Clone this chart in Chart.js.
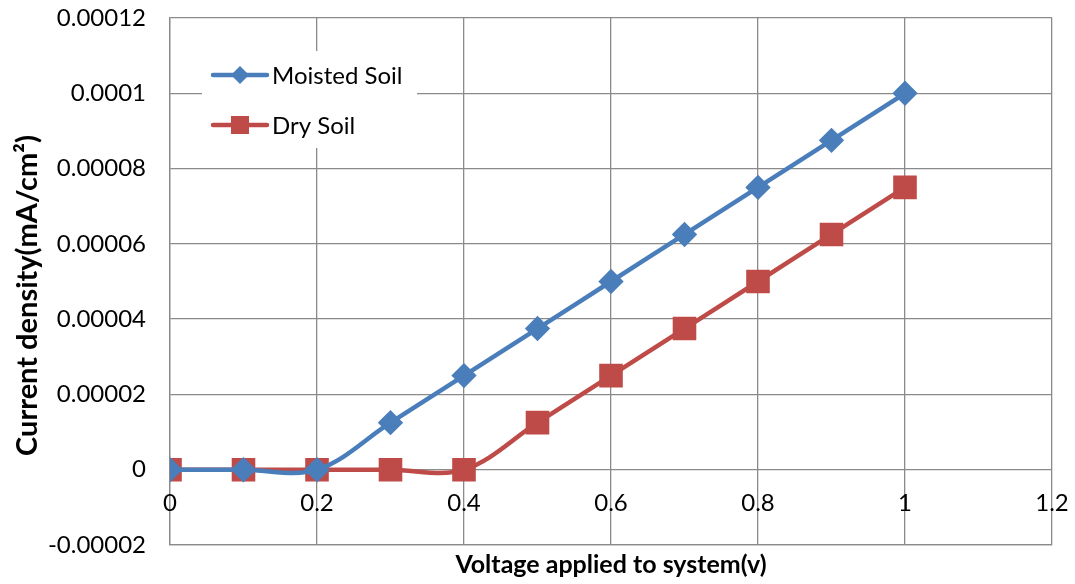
<!DOCTYPE html>
<html>
<head>
<meta charset="utf-8">
<script src="https://cdn.jsdelivr.net/npm/chart.js@4"></script>
<style>
html,body{margin:0;padding:0;background:#fff;}
#wrap{width:1075px;height:584px;position:relative;}
</style>
</head>
<body>
<div id="wrap"><canvas id="c" width="1075" height="584"></canvas></div>
<script>
const voltages = [0, 0.1, 0.2, 0.3, 0.4, 0.5, 0.6, 0.7, 0.8, 0.9, 1.0];
const moistedSoil = [0, 0, 0, 0.0000125, 0.000025, 0.0000375, 0.00005, 0.0000625, 0.000075, 0.0000875, 0.0001];
const drySoil = [0, 0, 0, 0, 0, 0.0000125, 0.000025, 0.0000375, 0.00005, 0.0000625, 0.000075];
const seriesNames = ['Moisted Soil', 'Dry Soil'];
const xTicks = [0, 0.2, 0.4, 0.6, 0.8, 1.0, 1.2];
const xTickLabels = ['0', '0.2', '0.4', '0.6', '0.8', '1', '1.2'];
const yTicks = [-0.00002, 0, 0.00002, 0.00004, 0.00006, 0.00008, 0.0001, 0.00012];
const yTickLabels = ['-0.00002', '0', '0.00002', '0.00004', '0.00006', '0.00008', '0.0001', '0.00012'];
const xTitle = 'Voltage applied to system(v)';
const yTitle = 'Current density(mA/cm\u00B2)';

const FONT = 'Lato, "Open Sans", sans-serif';
const GRID = '#8a8a8a';

const textPlugin = {
  id: 'extraText',
  afterDraw(chart) {
    const ctx = chart.ctx, xs = chart.scales.x, ys = chart.scales.y;
    const y0 = ys.getPixelForValue(0);
    ctx.save();
    ctx.font = '24px ' + FONT;
    ctx.fillStyle = '#000';
    ctx.textAlign = 'center';
    ctx.textBaseline = 'middle';
    xTicks.forEach((v, i) => {
      ctx.fillText(xTickLabels[i], xs.getPixelForValue(v), y0 + 34);
    });
    // y axis title, slightly below the plot centre as in the reference
    ctx.translate(28, (ys.top + ys.bottom) / 2 + 14);
    ctx.rotate(-Math.PI / 2);
    ctx.font = 'bold 29px ' + FONT;
    ctx.fillText(yTitle, 0, 0);
    ctx.restore();
  }
};

const legendPlugin = {
  id: 'insideLegend',
  beforeDatasetsDraw(chart) {
    const ctx = chart.ctx;
    ctx.save();
    ctx.fillStyle = '#fff';
    ctx.fillRect(202, 51, 215, 97);
    chart.data.datasets.forEach((ds, i) => {
      const cy = 75 + i * 50;
      ctx.strokeStyle = ds.borderColor;
      ctx.lineWidth = 4.5;
      ctx.lineCap = 'round';
      ctx.beginPath();
      ctx.moveTo(213, cy);
      ctx.lineTo(267, cy);
      ctx.stroke();
      ctx.fillStyle = ds.backgroundColor;
      ctx.beginPath();
      if (ds.pointStyle === 'rectRot') {
        const r = 9;
        ctx.moveTo(240, cy - r); ctx.lineTo(240 + r, cy); ctx.lineTo(240, cy + r); ctx.lineTo(240 - r, cy);
        ctx.closePath();
      } else {
        ctx.rect(231, cy - 9, 18, 18);
      }
      ctx.fill();
      ctx.fillStyle = '#000';
      ctx.font = '24px ' + FONT;
      ctx.textAlign = 'left';
      ctx.textBaseline = 'middle';
      ctx.fillText(ds.label, 272, cy + 1);
    });
    ctx.restore();
  }
};

new Chart(document.getElementById('c'), {
  type: 'line',
  data: {
    datasets: [
      {
        label: seriesNames[0],
        data: voltages.map((v, i) => ({x: v, y: moistedSoil[i]})),
        borderColor: '#4A7EBB',
        backgroundColor: '#4A7EBB',
        borderWidth: 4.5,
        pointStyle: 'rectRot',
        pointRadius: 9.5,
        pointHoverRadius: 9.5,
        tension: 0.35,
        fill: false
      },
      {
        label: seriesNames[1],
        data: voltages.map((v, i) => ({x: v, y: drySoil[i]})),
        borderColor: '#BE4B48',
        backgroundColor: '#BE4B48',
        borderWidth: 4.5,
        pointStyle: 'rect',
        pointRadius: 13.5,
        pointHoverRadius: 13.5,
        tension: 0.35,
        fill: false
      }
    ]
  },
  options: {
    responsive: false,
    animation: false,
    devicePixelRatio: 1,
    layout: {padding: {top: 17, right: 23, left: 0, bottom: 0}},
    plugins: {legend: {display: false}, tooltip: {enabled: false}},
    scales: {
      x: {
        type: 'linear',
        min: 0, max: 1.2,
        afterBuildTicks(scale) { scale.ticks = xTicks.map(v => ({value: v})); },
        ticks: {display: false},
        grid: {color: GRID, lineWidth: 1.3, drawTicks: false},
        border: {color: GRID, width: 1.3},
        title: {display: true, text: xTitle, font: {family: FONT, size: 25, weight: 'bold'}, color: '#000', padding: {top: 4, bottom: 4}},
        afterFit(scale) { scale.height = 39; scale.paddingLeft = 0; scale.paddingRight = 0; }
      },
      y: {
        min: -0.00002, max: 0.00012,
        afterBuildTicks(scale) { scale.ticks = yTicks.map(v => ({value: v})); },
        ticks: {
          font: {family: FONT, size: 24},
          color: '#000',
          padding: 24,
          callback(v) {
            const i = yTicks.findIndex(t => Math.abs(t - v) < 1e-12);
            return i >= 0 ? yTickLabels[i] : '';
          }
        },
        grid: {color: GRID, lineWidth: 1.3, drawTicks: false},
        border: {color: GRID, width: 1.3},
        title: {display: false},
        afterFit(scale) { scale.width = 170; scale.paddingTop = 0; scale.paddingBottom = 0; }
      }
    }
  },
  plugins: [textPlugin, legendPlugin]
});
</script>
</body>
</html>
